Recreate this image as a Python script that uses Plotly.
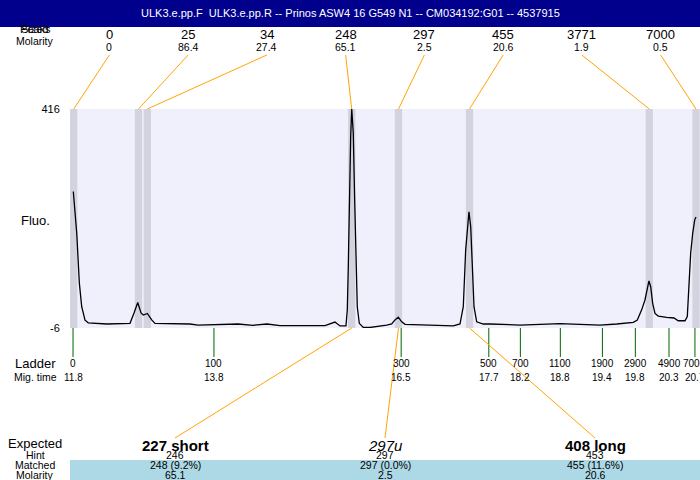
import plotly.graph_objects as go

# electropherogram trace: migration time (min) and fluorescence
mig_time = [11.804, 11.853, 11.890, 11.924, 11.971, 12.018, 12.281, 12.613, 12.670, 12.723,
            12.770, 12.803, 12.860, 12.922, 12.969, 13.084, 13.279, 13.469, 13.583, 14.153,
            14.367, 14.567, 14.752, 15.037, 15.394, 15.536, 15.608, 15.693, 15.712, 15.726,
            15.740, 15.760, 15.775, 15.797, 15.817, 15.836, 15.854, 15.883, 15.940, 16.036,
            16.131, 16.274, 16.345, 16.392, 16.439, 16.488, 16.535, 16.749, 16.987, 17.223,
            17.319, 17.366, 17.400, 17.429, 17.447, 17.472, 17.494, 17.519, 17.557, 17.651,
            17.747, 18.175, 18.745, 19.316, 19.554, 19.791, 19.848, 19.910, 19.957, 19.990,
            20.014, 20.039, 20.067, 20.100, 20.147, 20.267, 20.371, 20.432, 20.528, 20.561,
            20.589, 20.609, 20.638, 20.666, 20.685]
fluo = [257, 177, 81, 35, 9, 4, 1.7, 3, 23, 43,
        23, 19, 22, 9.5, 3, 3, 2.4, 1.7, -0.3, 1.7,
        -0.8, 1.7, -1.6, -1.6, -1.6, 5.5, -2, -2, 29, 112,
        241, 363, 416, 370, 241, 112, 35, 3, -5, -5,
        -3.5, -0.3, 1.7, 9.5, 15, 6, 1, -0.3, -1.6, -2,
        1.7, 35, 144, 202, 218, 189, 112, 35, 6, 1.7,
        1.7, -0.3, 2.4, -0.3, 1.7, 5, 9.5, 29, 48, 73.6,
        84.6, 73.6, 41.6, 22, 17, 14.6, 13.3, 8, 8, 16,
        86.5, 138, 176.5, 202, 208]

# called peaks
peak_size = ["0", "25", "34", "248", "297", "455", "3771", "7000"]
peak_molarity = ["0", "86.4", "27.4", "65.1", "2.5", "20.6", "1.9", "0.5"]
peak_time = [11.810, 12.734, 12.860, 15.775, 16.442, 17.455, 20.019, 20.685]
peak_width = 0.104

# ladder
ladder_size = ["0", "100", "300", "500", "700", "1100", "1900", "2900", "4900", "7000"]
ladder_time = [11.80, 13.81, 16.48, 17.73, 18.18, 18.75, 19.35, 19.82, 20.30, 20.67]
ladder_label = ["11.8", "13.8", "16.5", "17.7", "18.2", "18.8", "19.4", "19.8", "20.3", "20.7"]

# expected products
expected_name = ["227 short", "297u", "408 long"]
expected_hint = ["246", "297", "453"]
expected_matched = ["248 (9.2%)", "297 (0.0%)", "455 (11.6%)"]
expected_molarity = ["65.1", "2.5", "20.6"]
expected_peak = [3, 4, 5]

title = "ULK3.e.pp.F  ULK3.e.pp.R -- Prinos ASW4 16 G549 N1 -- CM034192:G01 -- 4537915"

X0, X1 = 11.757, 20.742
L, T, W, H = 70, 109, 630, 219
FONT = "Liberation Sans, Arial, sans-serif"
ORANGE = "#ffa500"


def px(x):
    return (x - L) / W


def py(y):
    return (T + H - y) / H


def pt(x):
    return X0 + (x - L) / W * (X1 - X0)


fig = go.Figure()
fig.add_trace(go.Scatter(x=mig_time, y=fluo, mode="lines",
                         line=dict(color="black", width=1.3), hoverinfo="skip"))

shapes = []
ann = []


def text(x, y, s, size, **kw):
    ann.append(dict(x=px(x), y=py(y), xref="paper", yref="paper", text=s, showarrow=False,
                    xanchor=kw.pop("xanchor", "center"), yanchor="middle",
                    font=dict(size=size, color=kw.pop("color", "black"), family=FONT), **kw))


# title bar
shapes.append(dict(type="rect", xref="paper", yref="paper", x0=px(0), x1=px(700),
                   y0=py(27), y1=py(0), fillcolor="#00008c", line=dict(width=0), layer="below"))
text(350, 13, title, 11, color="white")

# peak bands and top labels
for i, t in enumerate(peak_time):
    shapes.append(dict(type="rect", xref="x", yref="paper", x0=t - peak_width / 2,
                       x1=t + peak_width / 2, y0=0, y1=1, fillcolor="#d3d3e0",
                       line=dict(width=0), layer="below"))
    lx = L + W * (i + 0.5) / len(peak_time)
    text(lx, 34.5, peak_size[i], 13)
    text(lx, 46.5, peak_molarity[i], 10.5)
    shapes.append(dict(type="line", xref="x", yref="paper", x0=t, y0=1, x1=pt(lx), y1=py(55),
                       line=dict(color=ORANGE, width=1)))

text(35, 29, "Peaks", 11)
text(35, 29, "Sized", 11)
text(35, 41, "Molarity", 10.5)
text(35, 220, "Fluo.", 13)

# ladder ticks
for i, t in enumerate(ladder_time):
    shapes.append(dict(type="line", xref="x", yref="paper", x0=t, x1=t, y0=0, y1=py(357),
                       line=dict(color="#006400", width=1)))
    ann.append(dict(x=t, y=py(363), xref="x", yref="paper", text=ladder_size[i], showarrow=False,
                    yanchor="middle", font=dict(size=10, family=FONT, color="black")))
    ann.append(dict(x=t, y=py(377), xref="x", yref="paper", text=ladder_label[i], showarrow=False,
                    yanchor="middle", font=dict(size=10, family=FONT, color="black")))
text(35, 363, "Ladder", 13)
text(35, 377, "Mig. time", 10.5)

# expected products
shapes.append(dict(type="rect", xref="paper", yref="paper", x0=0, x1=1, y0=py(480), y1=py(460),
                   fillcolor="#add8e6", line=dict(width=0), layer="below"))
for i, name in enumerate(expected_name):
    lx = L + W * (i + 0.5) / len(expected_name)
    shown = "<i>%s</i>" % name if name.endswith("u") else "<b>%s</b>" % name
    text(lx, 445, shown, 15)
    text(lx, 454.5, expected_hint[i], 10.5)
    text(lx, 464.5, expected_matched[i], 10.5)
    text(lx, 474.5, expected_molarity[i], 10.5)
    t = peak_time[expected_peak[i]]
    shapes.append(dict(type="line", xref="x", yref="paper", x0=t, y0=0, x1=pt(lx), y1=py(438),
                       line=dict(color=ORANGE, width=1)))
text(35, 443, "Expected", 13)
text(35, 454.5, "Hint", 10.5)
text(35, 464.5, "Matched", 10.5)
text(35, 474.5, "Molarity", 10.5)

fig.update_layout(
    width=700, height=480,
    margin=dict(l=L, r=700 - L - W, t=T, b=480 - T - H, pad=0),
    paper_bgcolor="white", plot_bgcolor="#f0f0fc",
    showlegend=False, shapes=shapes, annotations=ann,
    font=dict(family=FONT, color="black"),
)
fig.update_xaxes(range=[X0, X1], showticklabels=False, showgrid=False, zeroline=False,
                 showline=False, ticks="")
fig.update_yaxes(range=[-6, 416], tickvals=[-6, 416], ticktext=["-6", "416"],
                 showgrid=False, zeroline=False, showline=False, ticks="outside",
                 ticklen=7, tickcolor="rgba(0,0,0,0)", tickfont=dict(size=11, family=FONT))

# page has a default 8px body margin; drop it so the figure sits at the window corner
fig.write_html("out.html", config={"displayModeBar": False},
               post_script="document.body.style.margin='0px';")
